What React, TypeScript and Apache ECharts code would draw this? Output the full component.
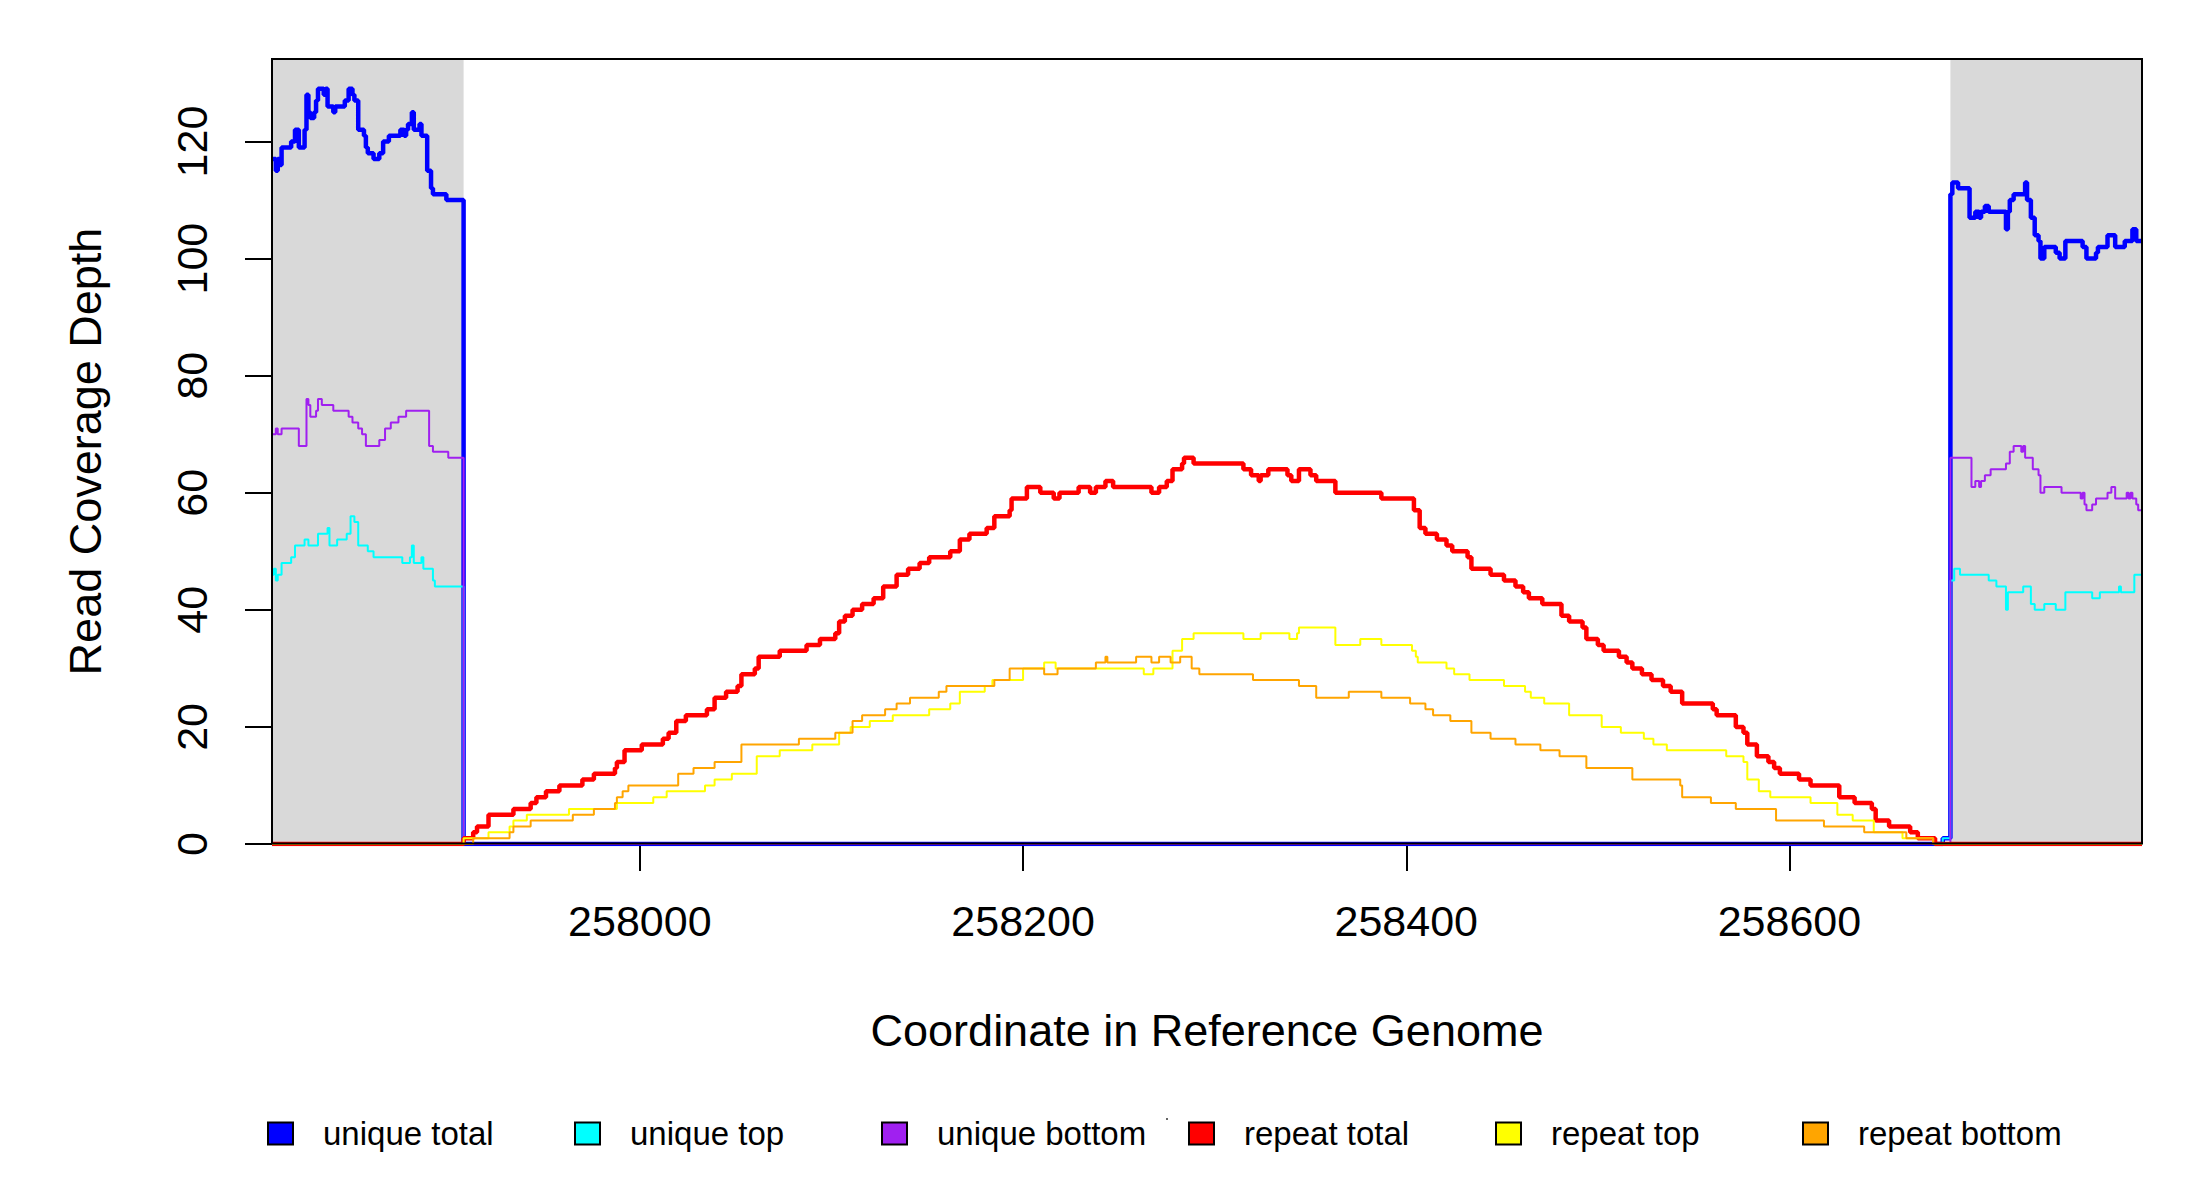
import { useEffect, useRef } from 'react';
import * as echarts from 'echarts';

const FONT = '"Liberation Sans", Arial, sans-serif';

const seriesNames = ['unique total', 'unique top', 'unique bottom', 'repeat total', 'repeat top', 'repeat bottom'];
const seriesColors = ['#0000FF', '#00FFFF', '#A020F0', '#FF0000', '#FFFF00', '#FFA500'];
const seriesWidths = [4.5, 2, 2, 4.5, 2, 2];

const xTicks = [258000, 258200, 258400, 258600];
const yTicks = [0, 20, 40, 60, 80, 100, 120];
const xRange = [257808, 258784];
const yRange = [0, 134.1];
const flankRegions = [
  [257808, 257908],
  [258684, 258784],
];

// [coordinate, depth] step points; each depth holds until the next coordinate
const uniqueTotal = [
  [257808, 117], [257810, 115], [257811, 117], [257812, 116], [257813, 119], [257818, 120], [257820, 122],
  [257822, 119], [257825, 122], [257826, 128], [257827, 125], [257828, 124], [257830, 125], [257831, 127],
  [257832, 129], [257835, 128], [257836, 129], [257837, 126], [257840, 125], [257841, 126], [257846, 127],
  [257848, 129], [257850, 128], [257851, 127], [257853, 122], [257856, 121], [257857, 119], [257858, 118],
  [257861, 117], [257864, 118], [257866, 120], [257869, 121], [257875, 122], [257877, 121], [257878, 122],
  [257879, 123], [257881, 125], [257882, 122], [257885, 123], [257886, 121], [257889, 115], [257891, 112],
  [257892, 111], [257899, 110], [257908, 0], [258680, 1], [258684, 111], [258685, 113], [258688, 112],
  [258694, 107], [258697, 108], [258699, 107], [258700, 108], [258702, 109], [258704, 108], [258713, 105],
  [258714, 108], [258715, 110], [258717, 111], [258723, 113], [258724, 110], [258726, 107], [258728, 104],
  [258730, 103], [258731, 100], [258733, 102], [258739, 101], [258741, 100], [258744, 103], [258753, 102],
  [258755, 100], [258760, 101], [258761, 102], [258766, 104], [258770, 102], [258775, 103], [258779, 105],
  [258781, 103], [258784, 103],
];

const uniqueTop = [
  [257808, 46], [257809, 47], [257810, 45], [257811, 46], [257813, 48], [257818, 49], [257820, 51],
  [257825, 52], [257827, 51], [257832, 53], [257837, 54], [257838, 51], [257842, 52], [257847, 53],
  [257849, 56], [257851, 55], [257853, 51], [257858, 50], [257861, 49], [257876, 48], [257880, 49],
  [257881, 51], [257882, 48], [257886, 49], [257887, 47], [257892, 45], [257893, 44], [257908, 0],
  [258680, 1], [258684, 45], [258686, 47], [258689, 46], [258704, 45], [258708, 44], [258713, 40],
  [258714, 43], [258722, 44], [258726, 41], [258728, 40], [258733, 41], [258739, 40], [258744, 43],
  [258758, 42], [258762, 43], [258772, 44], [258773, 43], [258780, 46], [258784, 46],
];

const uniqueBottom = [
  [257808, 70], [257810, 71], [257811, 70], [257813, 71], [257822, 68], [257826, 76], [257827, 75],
  [257828, 73], [257831, 74], [257832, 76], [257834, 75], [257840, 74], [257848, 73], [257850, 72],
  [257853, 71], [257855, 70], [257857, 68], [257864, 69], [257867, 71], [257870, 72], [257874, 73],
  [257878, 74], [257890, 68], [257892, 67], [257900, 66], [257908, 0], [258684, 66], [258695, 61],
  [258697, 62], [258699, 61], [258700, 62], [258702, 63], [258705, 64], [258713, 65], [258715, 67],
  [258717, 68], [258721, 67], [258722, 68], [258723, 66], [258727, 64], [258730, 63], [258731, 60],
  [258733, 61], [258742, 60], [258752, 59], [258753, 60], [258754, 58], [258755, 57], [258758, 58],
  [258760, 59], [258766, 60], [258768, 61], [258770, 59], [258776, 60], [258777, 59], [258778, 60],
  [258779, 59], [258781, 58], [258782, 57], [258784, 57],
];

const repeatTotal = [
  [257808, 0], [257908, 1], [257913, 2], [257915, 3], [257921, 5], [257934, 6], [257943, 7], [257946, 8],
  [257951, 9], [257958, 10], [257970, 11], [257976, 12], [257987, 13], [257988, 14], [257992, 16],
  [258001, 17], [258012, 18], [258015, 19], [258019, 21], [258024, 22], [258035, 23], [258039, 25],
  [258045, 26], [258051, 27], [258053, 29], [258060, 30], [258062, 32], [258073, 33], [258087, 34],
  [258094, 35], [258102, 36], [258104, 38], [258107, 39], [258111, 40], [258116, 41], [258122, 42],
  [258127, 44], [258134, 46], [258140, 47], [258146, 48], [258151, 49], [258162, 50], [258167, 52],
  [258172, 53], [258181, 54], [258185, 56], [258193, 57], [258194, 59], [258202, 61], [258209, 60],
  [258216, 59], [258219, 60], [258229, 61], [258235, 60], [258238, 61], [258243, 62], [258247, 61],
  [258267, 60], [258271, 61], [258275, 62], [258278, 64], [258283, 65], [258284, 66], [258289, 65],
  [258315, 64], [258319, 63], [258323, 62], [258324, 63], [258328, 64], [258338, 63], [258340, 62],
  [258344, 64], [258350, 63], [258353, 62], [258363, 60], [258387, 59], [258404, 57], [258407, 54],
  [258410, 53], [258416, 52], [258421, 51], [258424, 50], [258432, 49], [258434, 47], [258444, 46],
  [258451, 45], [258457, 44], [258461, 43], [258464, 42], [258471, 41], [258481, 39], [258485, 38],
  [258492, 37], [258494, 35], [258500, 34], [258503, 33], [258511, 32], [258515, 31], [258518, 30],
  [258523, 29], [258528, 28], [258534, 27], [258538, 26], [258544, 24], [258560, 23], [258562, 22],
  [258572, 20], [258576, 19], [258578, 17], [258583, 15], [258589, 14], [258592, 13], [258595, 12],
  [258605, 11], [258611, 10], [258626, 8], [258634, 7], [258643, 6], [258645, 4], [258652, 3],
  [258663, 2], [258667, 1], [258676, 0], [258784, 0],
];

const repeatTop = [
  [257808, 0], [257908, 1], [257921, 2], [257932, 3], [257934, 4], [257941, 5], [257963, 6], [257988, 7],
  [258007, 8], [258014, 9], [258034, 10], [258039, 11], [258048, 12], [258061, 15], [258073, 16],
  [258090, 17], [258104, 19], [258110, 20], [258120, 21], [258132, 22], [258151, 23], [258162, 24],
  [258167, 26], [258180, 27], [258184, 28], [258200, 30], [258211, 31], [258217, 30], [258263, 29],
  [258268, 30], [258278, 33], [258283, 35], [258289, 36], [258315, 35], [258324, 36], [258339, 35],
  [258343, 36], [258344, 37], [258363, 34], [258376, 35], [258387, 34], [258403, 33], [258405, 32],
  [258406, 31], [258421, 30], [258425, 29], [258433, 28], [258451, 27], [258462, 26], [258465, 25],
  [258472, 24], [258485, 22], [258502, 20], [258512, 19], [258524, 18], [258529, 17], [258536, 16],
  [258567, 15], [258576, 14], [258578, 11], [258584, 9], [258590, 8], [258611, 7], [258625, 5],
  [258633, 4], [258644, 2], [258659, 1], [258675, 0], [258784, 0],
];

const repeatBottom = [
  [257808, 0], [257913, 1], [257932, 2], [257934, 3], [257943, 4], [257965, 5], [257976, 6], [257987, 7],
  [257988, 8], [257991, 9], [257994, 10], [258020, 12], [258028, 13], [258039, 14], [258053, 17],
  [258083, 18], [258102, 19], [258111, 21], [258116, 22], [258128, 23], [258134, 24], [258141, 25],
  [258156, 26], [258160, 27], [258185, 28], [258193, 30], [258211, 29], [258218, 30], [258238, 31],
  [258243, 32], [258244, 31], [258259, 32], [258267, 31], [258271, 32], [258277, 31], [258282, 32],
  [258288, 30], [258292, 29], [258320, 28], [258344, 27], [258353, 25], [258370, 26], [258387, 25],
  [258402, 24], [258410, 23], [258414, 22], [258423, 21], [258434, 19], [258444, 18], [258457, 17],
  [258470, 16], [258480, 15], [258494, 13], [258518, 11], [258543, 10], [258544, 8], [258559, 7],
  [258572, 6], [258593, 4], [258618, 3], [258639, 2], [258661, 1], [258675, 0], [258784, 0],
];

const seriesData = [uniqueTotal, uniqueTop, uniqueBottom, repeatTotal, repeatTop, repeatBottom];

export default function App() {
  const chartRef = useRef<HTMLDivElement>(null);

  useEffect(() => {
    if (!chartRef.current) return;

    const chart = echarts.init(chartRef.current, null, { renderer: 'svg' });

    // one legend box per item so the entries sit on an even 307px pitch like R's legend
    const legends = seriesNames.map((name, i) => ({
      data: [name],
      left: 267 + i * 307,
      top: 1117,
      padding: 0,
      icon: 'rect',
      itemWidth: 25,
      itemHeight: 22,
      selectedMode: false,
      itemStyle: { borderColor: '#000', borderWidth: 2 },
      textStyle: { fontFamily: FONT, fontSize: 33, color: '#000', padding: [0, 0, 0, 25] },
    }));

    const option = {
      animation: false,
      backgroundColor: '#ffffff',
      grid: { left: 272, right: 58, top: 59, bottom: 356 },
      legend: legends,
      xAxis: {
        type: 'value',
        min: xRange[0],
        max: xRange[1],
        name: 'Coordinate in Reference Genome',
        nameLocation: 'middle',
        nameGap: 164,
        nameTextStyle: { fontFamily: FONT, fontSize: 45, color: '#000' },
        axisLine: { show: false },
        axisTick: { show: true, length: 27, customValues: xTicks, lineStyle: { color: '#000', width: 2 } },
        axisLabel: {
          customValues: xTicks,
          margin: 55,
          fontFamily: FONT,
          fontSize: 43,
          color: '#000',
          formatter: (v: number) => String(v),
        },
        splitLine: { show: false },
      },
      yAxis: {
        type: 'value',
        min: yRange[0],
        max: yRange[1],
        name: 'Read Coverage Depth',
        nameLocation: 'middle',
        nameGap: 164,
        nameTextStyle: { fontFamily: FONT, fontSize: 45, color: '#000' },
        axisLine: { show: false },
        axisTick: { show: true, length: 27, customValues: yTicks, lineStyle: { color: '#000', width: 2 } },
        axisLabel: {
          customValues: yTicks,
          rotate: 90,
          margin: 59,
          fontFamily: FONT,
          fontSize: 43,
          color: '#000',
          formatter: (v: number) => String(v),
        },
        splitLine: { show: false },
      },
      series: seriesData.map((d, i) => ({
        name: seriesNames[i],
        type: 'line',
        data: d,
        step: 'end',
        symbol: 'none',
        color: seriesColors[i],
        lineStyle: { color: seriesColors[i], width: seriesWidths[i] },
        itemStyle: { color: seriesColors[i] },
        markArea:
          i === 0
            ? {
                silent: true,
                itemStyle: { color: '#D9D9D9', opacity: 1 },
                data: flankRegions.map(([a, b]) => [{ xAxis: a }, { xAxis: b }]),
              }
            : undefined,
      })),
      graphic: [
        {
          type: 'rect',
          z: 100,
          silent: true,
          shape: { x: 272, y: 59, width: 1870, height: 784.5 },
          style: { fill: 'none', stroke: '#000', lineWidth: 2 },
        },
        {
          type: 'rect',
          z: 100,
          silent: true,
          shape: { x: 1166, y: 1118, width: 2, height: 2 },
          style: { fill: '#666' },
        },
      ],
    };

    chart.setOption(option);

    return () => {
      chart.dispose();
    };
  }, []);

  return <div ref={chartRef} style={{ position: 'absolute', left: 0, top: 0, width: 2200, height: 1200 }} />;
}
